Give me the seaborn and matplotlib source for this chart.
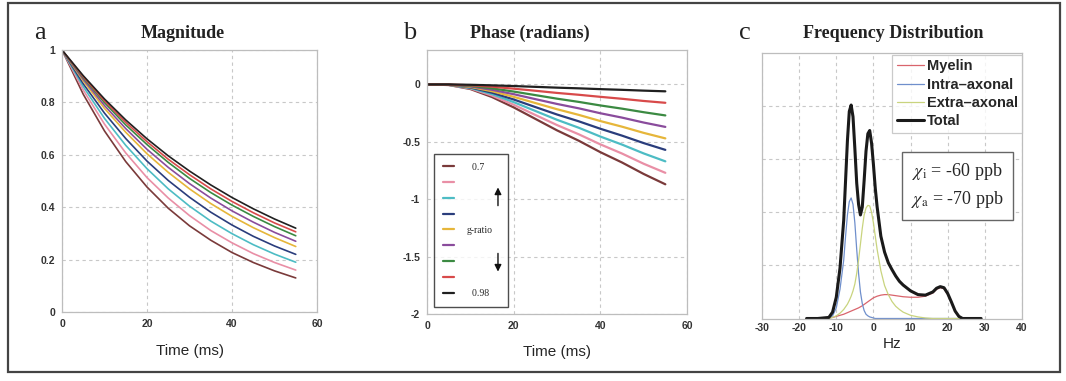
import numpy as np
import pandas as pd
import matplotlib
matplotlib.use("Agg")
import matplotlib.pyplot as plt
from matplotlib.patches import Rectangle
from matplotlib.lines import Line2D
import seaborn as sns

# ---------------- data ----------------
time_ms = [0, 5, 10, 15, 20, 25, 30, 35, 40, 45, 50, 55]
g_ratio = ["0.7", "g2", "g3", "g4", "g5", "g6", "g7", "g8", "0.98"]
line_colors = ["#7a3a3a", "#e98fa6", "#4dbcc4", "#2a3d7c", "#e6b63a",
               "#8a4c9c", "#3b8a42", "#d84a4a", "#202020"]

magnitude = [
    [1, 0.831, 0.691, 0.574, 0.477, 0.396, 0.329, 0.274, 0.227, 0.189, 0.157, 0.130],
    [1, 0.847, 0.717, 0.607, 0.513, 0.435, 0.368, 0.311, 0.264, 0.223, 0.189, 0.160],
    [1, 0.860, 0.739, 0.636, 0.547, 0.470, 0.404, 0.347, 0.299, 0.257, 0.221, 0.190],
    [1, 0.871, 0.759, 0.662, 0.576, 0.502, 0.438, 0.381, 0.332, 0.289, 0.252, 0.220],
    [1, 0.882, 0.777, 0.686, 0.604, 0.533, 0.470, 0.414, 0.365, 0.322, 0.284, 0.250],
    [1, 0.888, 0.788, 0.700, 0.621, 0.552, 0.490, 0.435, 0.386, 0.343, 0.304, 0.270],
    [1, 0.894, 0.799, 0.714, 0.639, 0.571, 0.510, 0.456, 0.408, 0.365, 0.326, 0.291],
    [1, 0.898, 0.806, 0.724, 0.650, 0.583, 0.524, 0.470, 0.422, 0.379, 0.340, 0.306],
    [1, 0.902, 0.813, 0.733, 0.661, 0.596, 0.538, 0.485, 0.437, 0.394, 0.355, 0.320],
]

phase = [
    [0, -0.005, -0.040, -0.110, -0.200, -0.300, -0.400, -0.490, -0.590, -0.680, -0.780, -0.870],
    [0, -0.005, -0.035, -0.097, -0.177, -0.266, -0.354, -0.434, -0.522, -0.602, -0.691, -0.770],
    [0, -0.004, -0.031, -0.084, -0.154, -0.231, -0.308, -0.377, -0.454, -0.524, -0.601, -0.670],
    [0, -0.003, -0.026, -0.072, -0.131, -0.197, -0.262, -0.321, -0.386, -0.446, -0.511, -0.570],
    [0, -0.003, -0.022, -0.059, -0.108, -0.162, -0.216, -0.265, -0.319, -0.368, -0.422, -0.470],
    [0, -0.002, -0.017, -0.047, -0.085, -0.128, -0.170, -0.208, -0.251, -0.289, -0.332, -0.370],
    [0, -0.002, -0.012, -0.034, -0.062, -0.093, -0.124, -0.152, -0.183, -0.211, -0.242, -0.270],
    [0, -0.001, -0.007, -0.020, -0.037, -0.055, -0.074, -0.090, -0.108, -0.125, -0.144, -0.160],
    [0, 0.000, -0.003, -0.008, -0.014, -0.021, -0.028, -0.034, -0.041, -0.047, -0.054, -0.060],
]
legend_b_labels = ["  0.7      ", "", "", "", "g-ratio", "", "", "", "  0.98"]

hz = [-18, -15, -12, -11, -10, -9, -8, -7.5, -7, -6.5, -6, -5.5, -5, -4.5, -4, -3.5,
      -3, -2.5, -2, -1.5, -1, -0.5, 0, 0.5, 1, 2, 3, 4, 5, 6, 7, 8, 10, 12, 14,
      16, 17, 18, 19, 20, 21, 22, 23, 24, 26, 29]
myelin = [0, 0, 0.01, 0.02, 0.04, 0.06, 0.08, 0.095, 0.11, 0.125, 0.14, 0.155, 0.17, 0.185,
          0.2, 0.22, 0.24, 0.265, 0.29, 0.315, 0.34, 0.365, 0.39, 0.405, 0.42, 0.44, 0.45,
          0.45, 0.44, 0.43, 0.42, 0.41, 0.40, 0.40, 0.42, 0.48, 0.55, 0.58, 0.56, 0.45,
          0.30, 0.13, 0.03, 0, 0, 0]
intra = [0, 0, 0, 0.05, 0.2, 0.55, 1.1, 1.55, 1.95, 2.2, 2.27, 2.15, 1.8, 1.3, 0.85, 0.5,
         0.28, 0.15, 0.08, 0.05, 0.03, 0.02, 0.01, 0, 0, 0, 0, 0, 0, 0, 0, 0, 0, 0, 0,
         0, 0, 0, 0, 0, 0, 0, 0, 0, 0, 0]
extra = [0, 0, 0, 0.02, 0.05, 0.1, 0.17, 0.22, 0.27, 0.34, 0.42, 0.52, 0.65, 0.85, 1.1, 1.4,
         1.7, 1.95, 2.08, 2.13, 2.12, 2.0, 1.8, 1.55, 1.3, 0.9, 0.62, 0.45, 0.32, 0.23, 0.17,
         0.12, 0.06, 0.03, 0.01, 0, 0, 0, 0, 0, 0, 0, 0, 0, 0, 0]
total = [0, 0, 0.02, 0.12, 0.4, 0.95, 1.85, 2.6, 3.35, 3.9, 4.02, 3.8, 3.2, 2.55, 2.15, 1.95,
         2.1, 2.6, 3.15, 3.48, 3.54, 3.3, 2.9, 2.45, 2.1, 1.55, 1.25, 1.05, 0.92, 0.8, 0.7,
         0.63, 0.52, 0.45, 0.44, 0.5, 0.57, 0.6, 0.58, 0.47, 0.31, 0.14, 0.04, 0, 0, 0]
comp_names = ["Myelin", "Intra\u2013axonal", "Extra\u2013axonal", "Total"]
comp_colors = ["#d9646c", "#6f8fcc", "#c9d47e", "#1a1a1a"]

# ---------------- style ----------------
sns.set_theme(style="white")
plt.rcParams["font.family"] = ["Liberation Sans", "DejaVu Sans"]
plt.rcParams["mathtext.fontset"] = "stix"
plt.rcParams["axes.unicode_minus"] = False

W, H = 1066, 381
fig = plt.figure(figsize=(W / 100, H / 100), dpi=100)

def px_axes(left, top, right, bottom):
    return fig.add_axes([left / W, (H - bottom) / H, (right - left) / W, (bottom - top) / H])

ax_a = px_axes(62, 50, 317, 312)
ax_b = px_axes(427, 50, 687, 314)
ax_c = px_axes(762, 53, 1022, 318.5)

def style_axes(ax, pad=5):
    for s in ax.spines.values():
        s.set_color("#bdbdbd")
        s.set_linewidth(0.9)
    ax.grid(True, color="#c8c8c8", linestyle=(0, (3, 3)), linewidth=0.8)
    ax.tick_params(length=0, pad=pad, labelsize=7.5, labelcolor="#333333")
    for lab in ax.get_xticklabels() + ax.get_yticklabels():
        lab.set_fontweight("bold")

# Panel a
df_a = pd.DataFrame([(t, v, g_ratio[i]) for i, row in enumerate(magnitude)
                     for t, v in zip(time_ms, row)], columns=["t", "v", "g"])
sns.lineplot(data=df_a, x="t", y="v", hue="g", hue_order=g_ratio,
             palette=line_colors, legend=False, ax=ax_a, linewidth=1.2)
ax_a.set_xlim(0, 60)
ax_a.set_ylim(0, 1)
ax_a.set_xticks([0, 20, 40, 60])
ax_a.set_yticks([0, 0.2, 0.4, 0.6, 0.8, 1])
ax_a.set_yticklabels(["0", "0.2", "0.4", "0.6", "0.8", "1"])
ax_a.set_xlabel("Time (ms)", fontsize=11, labelpad=11)
ax_a.set_ylabel("")
style_axes(ax_a)

# Panel b
df_b = pd.DataFrame([(t, v, g_ratio[i]) for i, row in enumerate(phase)
                     for t, v in zip(time_ms, row)], columns=["t", "v", "g"])
sns.lineplot(data=df_b, x="t", y="v", hue="g", hue_order=g_ratio,
             palette=line_colors, legend=False, ax=ax_b, linewidth=1.6)
ax_b.set_xlim(0, 60)
ax_b.set_ylim(-2, 0.3)
ax_b.set_xticks([0, 20, 40, 60])
ax_b.set_yticks([-2, -1.5, -1, -0.5, 0])
ax_b.set_yticklabels(["-2", "-1.5", "-1", "-0.5", "0"])
ax_b.set_xlabel("Time (ms)", fontsize=11, labelpad=10)
ax_b.set_ylabel("")
style_axes(ax_b)
handles_b = [Line2D([], [], color=c, lw=1.6) for c in line_colors]
leg_b = ax_b.legend(handles_b, legend_b_labels, loc="lower left",
                    bbox_to_anchor=(0.027, 0.027), frameon=True, fancybox=False,
                    prop={"family": "Liberation Serif", "size": 7},
                    handlelength=1.2, handletextpad=1.3, labelspacing=0.7,
                    borderpad=0.9, borderaxespad=0)
leg_b.get_frame().set_edgecolor("#222222")
leg_b.get_frame().set_linewidth(1.0)
for y0, y1 in [(0.40, 0.49), (0.24, 0.15)]:
    ann = ax_b.annotate("", xy=(0.273, y1), xytext=(0.273, y0), xycoords="axes fraction",
                        arrowprops=dict(arrowstyle="-|>", color="#111111", lw=1.0,
                                        mutation_scale=10))
    ann.set_zorder(10)

# Panel c
series_c = [myelin, intra, extra, total]
df_c = pd.DataFrame([(x, v, comp_names[i]) for i, s in enumerate(series_c)
                     for x, v in zip(hz, s)], columns=["hz", "v", "comp"])
for name, col in zip(comp_names, comp_colors):
    lw = 2.2 if name == "Total" else 0.9
    sns.lineplot(data=df_c[df_c["comp"] == name], x="hz", y="v", color=col,
                 linewidth=lw, ax=ax_c, label=name)
ax_c.set_xlim(-30, 40)
ax_c.set_ylim(0, 5)
ax_c.set_xticks([-30, -20, -10, 0, 10, 20, 30, 40])
ax_c.set_yticks([1, 2, 3, 4])
ax_c.set_yticklabels([])
ax_c.set_xlabel("Hz", fontsize=11, labelpad=3)
ax_c.set_ylabel("")
style_axes(ax_c, pad=3)
leg_c = ax_c.legend(loc="upper right", bbox_to_anchor=(1.0, 0.993), frameon=True,
                    fancybox=False, prop={"family": "Liberation Sans", "weight": "bold", "size": 10.5},
                    handlelength=1.9, handletextpad=0.15, labelspacing=0.3,
                    borderpad=0.3, borderaxespad=0)
leg_c.get_frame().set_edgecolor("#bdbdbd")
leg_c.get_frame().set_linewidth(0.9)
ax_c.text(0.752, 0.5, "$\\chi_{\\mathrm{i}}$ = -60 ppb\n$\\chi_{\\mathrm{a}}$ = -70 ppb",
          transform=ax_c.transAxes, ha="center", va="center", fontsize=13,
          family="Liberation Serif", linespacing=1.5,
          bbox=dict(boxstyle="square,pad=0.5", fc="white", ec="#666666", lw=1.0))

# Titles and panel letters
for x, title in [(183, "Magnitude"), (530, "Phase (radians)"), (893, "Frequency Distribution")]:
    fig.text(x / W, (H - 33) / H, title, fontsize=13, fontweight="bold",
             family="Liberation Serif", ha="center", va="center", color="#222222")
for x, y, s in [(40, 33, "a"), (410, 33, "b"), (745, 33, "c")]:
    fig.text(x / W, (H - y) / H, s, fontsize=19, family="Liberation Serif",
             ha="center", va="center", color="#222222")

# Outer frame
fig.patches.append(Rectangle((8 / W, (H - 372) / H), 1052 / W, 369 / H,
                             transform=fig.transFigure, fill=False,
                             edgecolor="#444444", linewidth=1.6))

fig.savefig("out.png", dpi=100)
